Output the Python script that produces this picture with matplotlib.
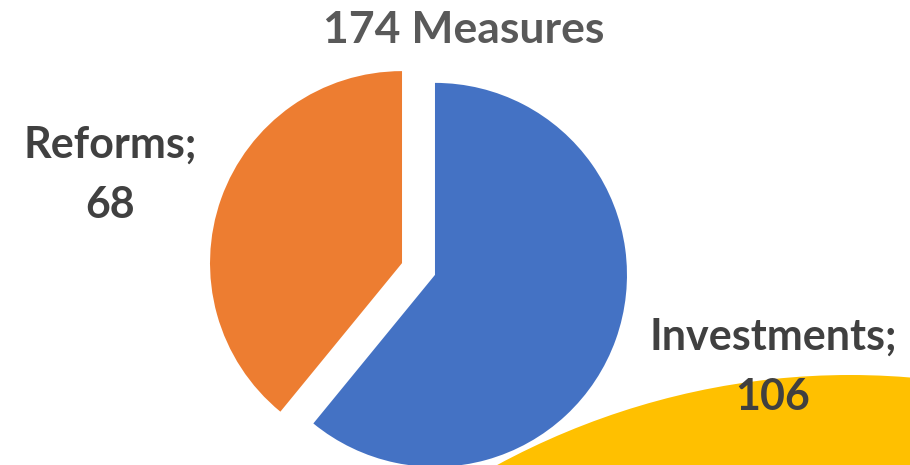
import matplotlib
matplotlib.use("Agg")
import matplotlib.pyplot as plt
from matplotlib.patches import Ellipse

categories = ["Investments", "Reforms"]
values = [106, 68]
colors = ["#4472C4", "#ED7D31"]
title = f"{sum(values)} Measures"

W, H = 910, 465
fig = plt.figure(figsize=(W / 100, H / 100), dpi=100)
ax = fig.add_axes([0, 0, 1, 1])

# decorative yellow shape (bottom right)
ax.add_patch(Ellipse((850, H - 375 - 850), 2 * 788, 2 * 850,
                     facecolor="#FFC000", edgecolor="none", zorder=0))

ax.pie(values, colors=colors, startangle=90, counterclock=False,
       explode=[17.5, 17.5], radius=192, center=(418.5, H - 269),
       wedgeprops=dict(linewidth=0), frame=False)
for w in ax.patches[1:]:
    w.set_zorder(2)

ax.set_xlim(0, W)
ax.set_ylim(0, H)
ax.set_aspect("equal")
ax.axis("off")

font = dict(family=["Lato", "DejaVu Sans"], fontweight="bold")
label_pos = {"Investments": (773, H - 367), "Reforms": (110, H - 175)}
for cat, val in zip(categories, values):
    x, y = label_pos[cat]
    ax.text(x, y, f"{cat};\n{val}", ha="center", va="center", fontsize=31,
            color="#404040", linespacing=1.6, zorder=5, **font)

fig.text(464 / W, 1 - 30 / H, title, ha="center", va="center", fontsize=32,
         color="#595959", **font)

fig.savefig("out.png", dpi=100)
